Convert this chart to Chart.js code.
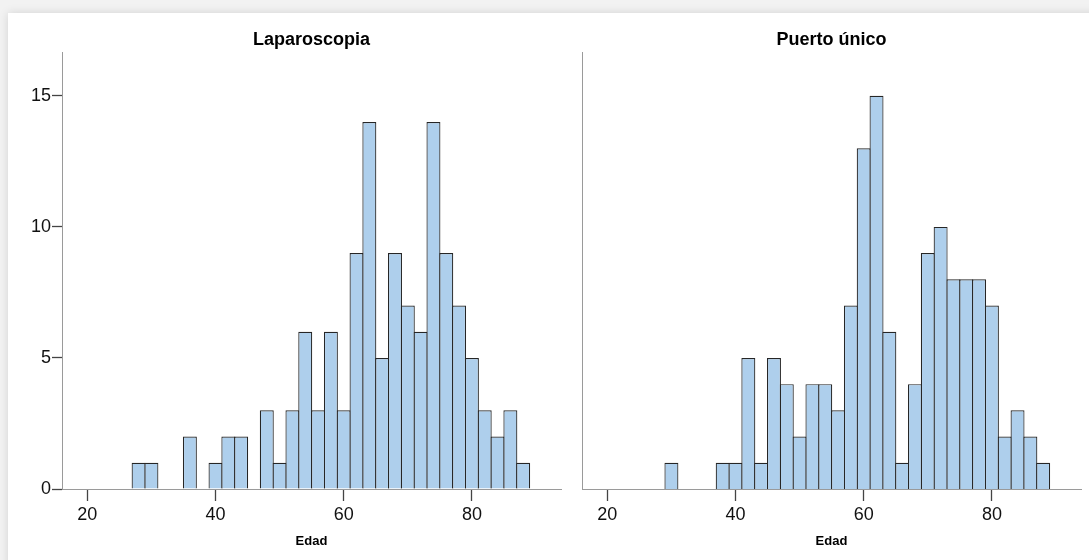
<!DOCTYPE html>
<html lang="es">
<head>
  <meta charset="UTF-8" />
  <title>Edad - Laparoscopia / Puerto único</title>
  <script src="https://cdn.jsdelivr.net/npm/chart.js"></script>
  <style>
    html, body {
      margin: 0;
      width: 1089px;
      height: 560px;
      overflow: hidden;
      background: #f2f2f2;
    }
    .card {
      position: absolute;
      left: 8px;
      top: 13px;
      width: 1100px;
      height: 570px;
      background: #fff;
      box-shadow: 0 0 9px rgba(0, 0, 0, 0.13);
    }
    canvas {
      position: absolute;
      top: 0;
    }
    #lapChart { left: 0; }
    #puertoChart { left: 570px; }
  </style>
</head>
<body>
  <div class="card"></div>
  <canvas id="lapChart" width="575" height="560"></canvas>
  <canvas id="puertoChart" width="519" height="560"></canvas>

  <script>
    // bins are 2 years wide, labelled by their centre
    const binCenters = [28, 30, 32, 34, 36, 38, 40, 42, 44, 46, 48, 50, 52, 54, 56, 58,
                        60, 62, 64, 66, 68, 70, 72, 74, 76, 78, 80, 82, 84, 86, 88];

    const lapCounts = [1, 1, 0, 0, 2, 0, 1, 2, 2, 0, 3, 1, 3, 6, 3, 6,
                       3, 9, 14, 5, 9, 7, 6, 14, 9, 7, 5, 3, 2, 3, 1];

    const puertoCounts = [0, 1, 0, 0, 0, 1, 1, 5, 1, 5, 4, 2, 4, 4, 3, 7,
                          13, 15, 6, 1, 4, 9, 10, 8, 8, 8, 7, 2, 3, 2, 1];

    const xTicks = [20, 40, 60, 80];
    const yTicks = [0, 5, 10, 15];

    const FONT = "'Liberation Sans', Arial, sans-serif";
    const BAR_FILL = "#aecfec";
    const BAR_EDGE = "#262626";
    const AXIS_GREY = "#9a9a9a";
    const TICK_GREY = "#444444";

    function histogram(canvasId, title, counts, withYLabels, yWidth, padRight) {
      const ctx = document.getElementById(canvasId).getContext("2d");
      return new Chart(ctx, {
        type: "bar",
        data: {
          datasets: [{
            data: binCenters.map((c, i) => ({ x: c, y: counts[i] })),
            backgroundColor: BAR_FILL,
            borderColor: BAR_EDGE,
            borderWidth: 1.2,
            // a touch wider than the bin so neighbours share one edge line
            barPercentage: 1.09,
            categoryPercentage: 1
          }]
        },
        options: {
          responsive: false,
          animation: false,
          layout: { padding: { left: 0, right: padRight, top: 0, bottom: 0 } },
          plugins: {
            legend: { display: false },
            tooltip: { enabled: false },
            title: {
              display: true,
              fullSize: false,
              text: title,
              color: "#000",
              font: { family: FONT, size: 18, weight: "bold" },
              padding: { top: 29, bottom: 2 }
            }
          },
          scales: {
            x: {
              type: "linear",
              min: 16.05,
              max: 93.9,
              offset: false,
              afterBuildTicks: s => { s.ticks = xTicks.map(v => ({ value: v })); },
              afterFit: s => { s.height = 71; },
              ticks: {
                color: "#111",
                font: { family: FONT, size: 18 },
                padding: 3,
                maxRotation: 0
              },
              grid: {
                offset: false,
                drawOnChartArea: false,
                drawTicks: true,
                tickLength: 12,
                tickColor: TICK_GREY,
                tickWidth: 1.3
              },
              border: { display: true, color: AXIS_GREY, width: 1 },
              title: {
                display: true,
                text: "Edad",
                color: "#000",
                font: { family: FONT, size: 13, weight: "bold" },
                padding: { top: 0, bottom: 11 }
              }
            },
            y: {
              min: 0,
              max: 16.65,
              afterBuildTicks: s => { s.ticks = yTicks.map(v => ({ value: v })); },
              afterFit: s => { s.width = yWidth; },
              ticks: {
                display: withYLabels,
                color: "#111",
                font: { family: FONT, size: 18 },
                padding: 1
              },
              grid: {
                display: withYLabels,
                drawOnChartArea: false,
                drawTicks: true,
                tickLength: 10,
                tickColor: TICK_GREY,
                tickWidth: 1.3
              },
              border: { display: true, color: AXIS_GREY, width: 1 }
            }
          }
        }
      });
    }

    histogram("lapChart", "Laparoscopia", lapCounts, true, 62, 14);
    histogram("puertoChart", "Puerto único", puertoCounts, false, 12, 8);
  </script>
</body>
</html>
